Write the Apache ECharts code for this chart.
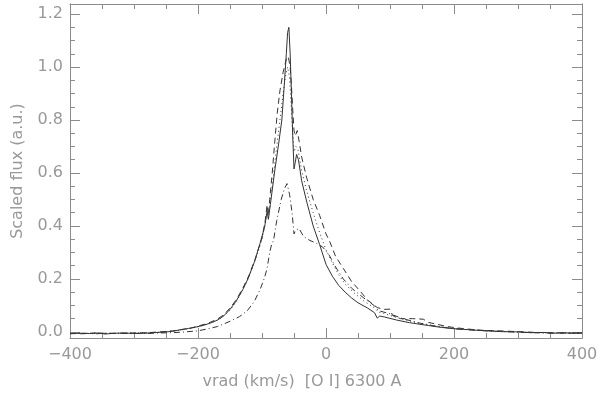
<!DOCTYPE html>
<html>
<head>
<meta charset="utf-8">
<script src="https://cdn.jsdelivr.net/npm/echarts@6/dist/echarts.min.js"></script>
<style>
  html, body { margin: 0; padding: 0; background: #fff; }
  #main { width: 600px; height: 394px; }
</style>
</head>
<body>
<div id="main"></div>
<script>
// [vrad, flux] pairs
const solidLine = [[-400,-0.007],[-385,-0.005],[-370,-0.006],[-355,-0.004],[-345,-0.008],[-330,-0.005],[-315,-0.004],[-300,-0.006],[-285,-0.005],[-270,-0.003],[-255,-0.001],[-240,0.002],[-228,0.008],[-215,0.013],[-200,0.020],[-190,0.026],[-181,0.033],[-170,0.044],[-160,0.060],[-150,0.085],[-140,0.118],[-130,0.160],[-122,0.200],[-111,0.270],[-103,0.335],[-96,0.395],[-92,0.455],[-90,0.425],[-87,0.480],[-80,0.610],[-74,0.710],[-69,0.800],[-65,0.940],[-62,1.050],[-60,1.130],[-58,1.150],[-56,1.050],[-54,0.900],[-52,0.740],[-50,0.615],[-48,0.640],[-46,0.670],[-43,0.650],[-38,0.570],[-30,0.490],[-20,0.400],[-10,0.330],[0,0.255],[10,0.210],[20,0.175],[30,0.150],[40,0.128],[50,0.110],[65,0.090],[76,0.072],[80,0.052],[84,0.060],[92,0.056],[110,0.045],[130,0.035],[160,0.024],[180,0.017],[200,0.012],[225,0.008],[250,0.004],[275,0.001],[300,0.000],[320,-0.003],[340,-0.002],[355,-0.005],[370,-0.003],[385,-0.005],[400,-0.004]];

const dashedLine = [[-400,-0.006],[-380,-0.007],[-360,-0.004],[-340,-0.006],[-320,-0.005],[-300,-0.004],[-280,-0.003],[-260,0.000],[-240,0.004],[-225,0.009],[-210,0.015],[-200,0.022],[-185,0.032],[-170,0.048],[-160,0.064],[-150,0.090],[-140,0.122],[-130,0.165],[-120,0.215],[-110,0.280],[-100,0.355],[-95,0.420],[-92,0.480],[-90,0.440],[-88,0.500],[-84,0.600],[-80,0.720],[-76,0.830],[-72,0.910],[-67,0.980],[-62,1.030],[-59,1.040],[-56,1.000],[-54,0.930],[-52,0.840],[-50,0.760],[-48,0.740],[-45,0.760],[-42,0.720],[-38,0.660],[-30,0.580],[-20,0.500],[-10,0.440],[0,0.370],[6,0.340],[15,0.285],[27,0.240],[40,0.190],[53,0.155],[65,0.120],[80,0.092],[90,0.085],[100,0.086],[104,0.062],[116,0.050],[135,0.050],[152,0.048],[160,0.036],[175,0.028],[190,0.020],[205,0.015],[225,0.010],[245,0.006],[270,0.004],[300,0.001],[330,-0.002],[360,-0.004],[400,-0.005]];

const dottedLine = [[-400,-0.005],[-375,-0.006],[-350,-0.005],[-325,-0.006],[-300,-0.004],[-275,-0.004],[-250,0.001],[-230,0.006],[-210,0.014],[-195,0.022],[-180,0.034],[-165,0.050],[-150,0.082],[-140,0.115],[-130,0.158],[-120,0.210],[-110,0.275],[-100,0.350],[-95,0.410],[-92,0.460],[-90,0.430],[-87,0.490],[-82,0.590],[-77,0.700],[-72,0.800],[-67,0.900],[-63,0.970],[-60,1.000],[-57,0.960],[-55,0.880],[-52,0.750],[-50,0.680],[-47,0.700],[-44,0.690],[-38,0.610],[-30,0.530],[-20,0.450],[-10,0.375],[0,0.310],[10,0.260],[20,0.215],[30,0.180],[45,0.145],[60,0.115],[75,0.092],[82,0.075],[90,0.070],[100,0.062],[120,0.048],[140,0.036],[170,0.023],[200,0.013],[230,0.007],[260,0.004],[290,0.001],[320,-0.002],[350,-0.004],[375,-0.003],[400,-0.005]];

const dashDotLine = [[-400,-0.006],[-380,-0.005],[-360,-0.007],[-340,-0.005],[-320,-0.006],[-300,-0.005],[-280,-0.006],[-260,-0.004],[-240,-0.003],[-220,0.000],[-200,0.004],[-186,0.011],[-170,0.020],[-150,0.040],[-135,0.058],[-123,0.080],[-112,0.115],[-103,0.160],[-96,0.205],[-92,0.240],[-88,0.300],[-85,0.330],[-82,0.345],[-77,0.420],[-70,0.500],[-65,0.540],[-61,0.560],[-57,0.520],[-53,0.450],[-50,0.370],[-47,0.385],[-42,0.390],[-35,0.360],[-25,0.345],[-15,0.335],[-5,0.320],[5,0.290],[15,0.245],[27,0.200],[40,0.165],[58,0.130],[75,0.100],[82,0.080],[90,0.075],[100,0.068],[120,0.050],[145,0.034],[170,0.022],[200,0.012],[230,0.007],[260,0.003],[290,0.000],[320,-0.003],[350,-0.004],[375,-0.005],[400,-0.004]];

const yMajorTicks = [0, 0.2, 0.4, 0.6, 0.8, 1.0, 1.2];
const yMinorTicks = [0.05, 0.1, 0.15, 0.25, 0.3, 0.35, 0.45, 0.5, 0.55, 0.65, 0.7, 0.75, 0.85, 0.9, 0.95, 1.05, 1.1, 1.15];

const xTitle = 'vrad (km/s)  [O I] 6300 A';
const yTitle = 'Scaled flux (a.u.)';

var chartDom = document.getElementById('main');
var myChart = echarts.init(chartDom);
var option;

const axisColor = '#8c8c8c';
const textColor = '#999999';
const font = 'DejaVu Sans';
const yMin = -0.023, yMax = 1.238;

const xAxisBase = {
  type: 'value',
  min: -400,
  max: 400,
  interval: 200,
  axisLine: { show: true, onZero: false, lineStyle: { color: axisColor, width: 1 } },
  axisTick: { show: true, inside: true, length: 10, lineStyle: { color: axisColor } },
  minorTick: { show: true, splitNumber: 4, length: 5, lineStyle: { color: axisColor } },
  splitLine: { show: false },
  minorSplitLine: { show: false }
};

const yAxisBase = (pos, ticks, len) => ({
  type: 'value',
  position: pos,
  min: yMin,
  max: yMax,
  axisLine: { show: true, onZero: false, lineStyle: { color: axisColor, width: 1 } },
  axisTick: { show: true, inside: true, length: len, customValues: ticks, lineStyle: { color: axisColor } },
  axisLabel: { show: false },
  splitLine: { show: false }
});

const lineSeries = (data, type) => ({
  type: 'line',
  data: data,
  showSymbol: false,
  symbol: 'none',
  animation: false,
  lineStyle: { color: '#333', width: 1, type: type }
});

option = {
  animation: false,
  grid: { left: 70, right: 18, top: 4, bottom: 56, containLabel: false, outerBoundsMode: 'none' },
  xAxis: [
    Object.assign({}, xAxisBase, {
      position: 'bottom',
      name: xTitle,
      nameLocation: 'middle',
      nameGap: 36,
      nameTextStyle: { color: textColor, fontFamily: font, fontSize: 16, padding: [0, 48, 0, 0] },
      axisLabel: {
        color: textColor, fontFamily: font, fontSize: 16, margin: 9,
        formatter: v => String(v).replace('-', '\u2212')
      }
    }),
    Object.assign({}, xAxisBase, { position: 'top', axisLabel: { show: false } })
  ],
  yAxis: [
    Object.assign(yAxisBase('left', yMajorTicks, 10), {
      name: yTitle,
      nameLocation: 'middle',
      nameGap: 44,
      nameTextStyle: { color: textColor, fontFamily: font, fontSize: 16 },
      axisLabel: {
        show: true, color: textColor, fontFamily: font, fontSize: 16, margin: 7,
        customValues: yMajorTicks,
        formatter: v => v.toFixed(1)
      }
    }),
    yAxisBase('left', yMinorTicks, 5),
    yAxisBase('right', yMajorTicks, 10),
    yAxisBase('right', yMinorTicks, 5)
  ],
  series: [
    lineSeries(solidLine, 'solid'),
    lineSeries(dashedLine, [6, 4]),
    lineSeries(dottedLine, [1, 3]),
    lineSeries(dashDotLine, [6, 3, 1, 3])
  ]
};

option && myChart.setOption(option);

window.onresize = function() {
  myChart.resize();
};
</script>
</body>
</html>
